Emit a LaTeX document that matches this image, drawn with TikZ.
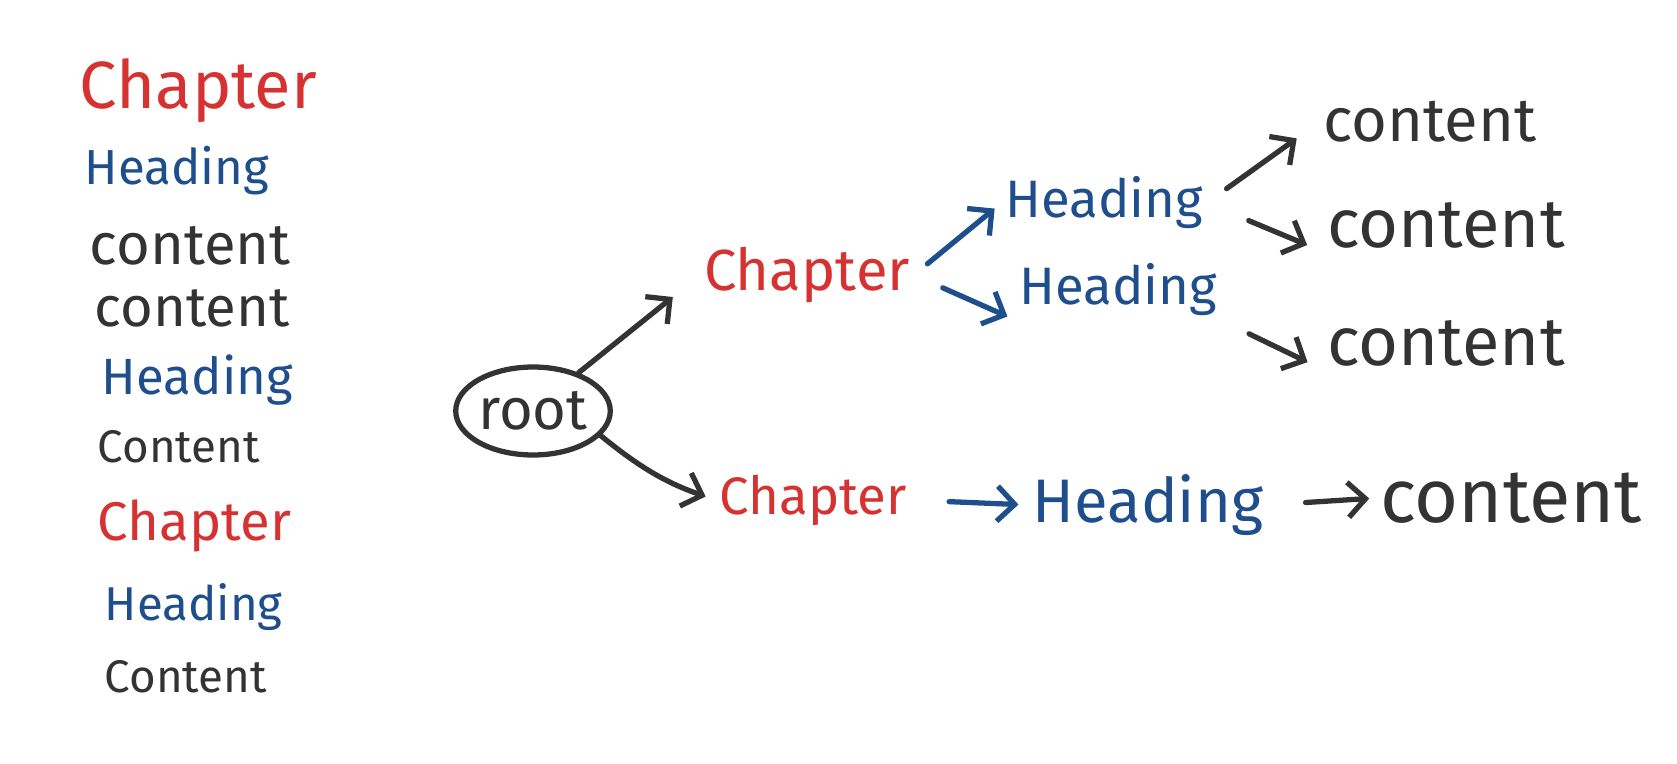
\documentclass[tikz,border=0pt]{standalone}
\usepackage{fontspec}
\setmainfont{Fira Sans}
\usetikzlibrary{positioning,arrows.meta,shapes.geometric}
\definecolor{chapred}{HTML}{D63232}
\definecolor{headblue}{HTML}{1F4E8C}
\definecolor{inkgray}{HTML}{333333}
\tikzset{
  >={Straight Barb[length=3.5mm,width=7mm]},
  lbl/.style={inner sep=2pt,font=\fontsize{30}{32}\selectfont},
  fsize/.style={font=\fontsize{#1}{#1}\selectfont},
  chaplbl/.style={lbl,text=chapred},
  headlbl/.style={lbl,text=headblue},
  contlbl/.style={lbl,text=inkgray},
  rootnode/.style={ellipse,draw=inkgray,line width=3pt,minimum width=2.82cm,
    minimum height=1.76cm,inner sep=0pt,text=inkgray,
    font=\fontsize{33}{34}\selectfont},
  flow/.style={->,line width=3pt,line cap=round,line join=round,draw=inkgray},
  bflow/.style={flow,draw=headblue},
}
\begin{document}
\begin{tikzpicture}[x=0.02cm,y=-0.02cm]
  \useasboundingbox (0,0) rectangle (1677,764);
  % document order on the left
  \node[chaplbl,fsize=38,anchor=west] (lChap1) at (76,91) {Chapter};
  \node[headlbl,fsize=28,anchor=west] (lHead1) at (81,171) {Heading};
  \node[contlbl,fsize=33,anchor=west] (lCont1) at (86,246) {content};
  \node[contlbl,fsize=32,anchor=west] (lCont2) at (91,308) {content};
  \node[headlbl,fsize=29,anchor=west] (lHead2) at (98,380) {Heading};
  \node[contlbl,fsize=26,anchor=west] (lCont3) at (94,447) {Content};
  \node[chaplbl,fsize=31,anchor=west] (lChap2) at (94,526) {Chapter};
  \node[headlbl,fsize=27,anchor=west] (lHead3) at (101,607) {Heading};
  \node[contlbl,fsize=26,anchor=west] (lCont4) at (101,677) {Content};
  % tree
  \node[rootnode] (root) at (533,411) {root};
  \node[chaplbl,fsize=33] (chapA) at (807,275) {Chapter};
  \node[headlbl] (headA1) at (1104,203) {Heading};
  \node[headlbl] (headA2) at (1118,290) {Heading};
  \node[contlbl,fsize=35] (contA1) at (1430,122) {content};
  \node[contlbl,fsize=39] (contA2) at (1446,225) {content};
  \node[contlbl,fsize=39] (contA3) at (1446,343) {content};
  \node[chaplbl] (chapB) at (813,500) {Chapter};
  \node[headlbl,fsize=35] (headB) at (1148,505) {Heading};
  \node[contlbl,fsize=43] (contB) at (1511,498) {content};
  \draw[flow,shorten >=20pt] (root.40) -- (chapA.west);
  \draw[flow,shorten >=6pt] (root.-20) to[bend right=10] (chapB.west);
  \draw[bflow,shorten <=10pt,shorten >=5pt] (chapA.east) -- (headA1.west);
  \draw[bflow,shorten <=18pt,shorten >=5pt] (chapA.east) -- (headA2.south west);
  \draw[flow,shorten <=14pt,shorten >=16pt] (headA1.east) -- (contA1.west);
  \draw[flow,shorten <=26pt,shorten >=10pt] (headA1.east) -- (contA2.south west);
  \draw[flow,shorten <=18pt,shorten >=10pt] (headA2.south east) -- (contA3.south west);
  \draw[bflow,shorten <=22pt,shorten >=6pt] (chapB.east) -- (headB.west);
  \draw[flow,shorten <=22pt,shorten >=4pt] (headB.east) -- (contB.west);
\end{tikzpicture}
\end{document}
